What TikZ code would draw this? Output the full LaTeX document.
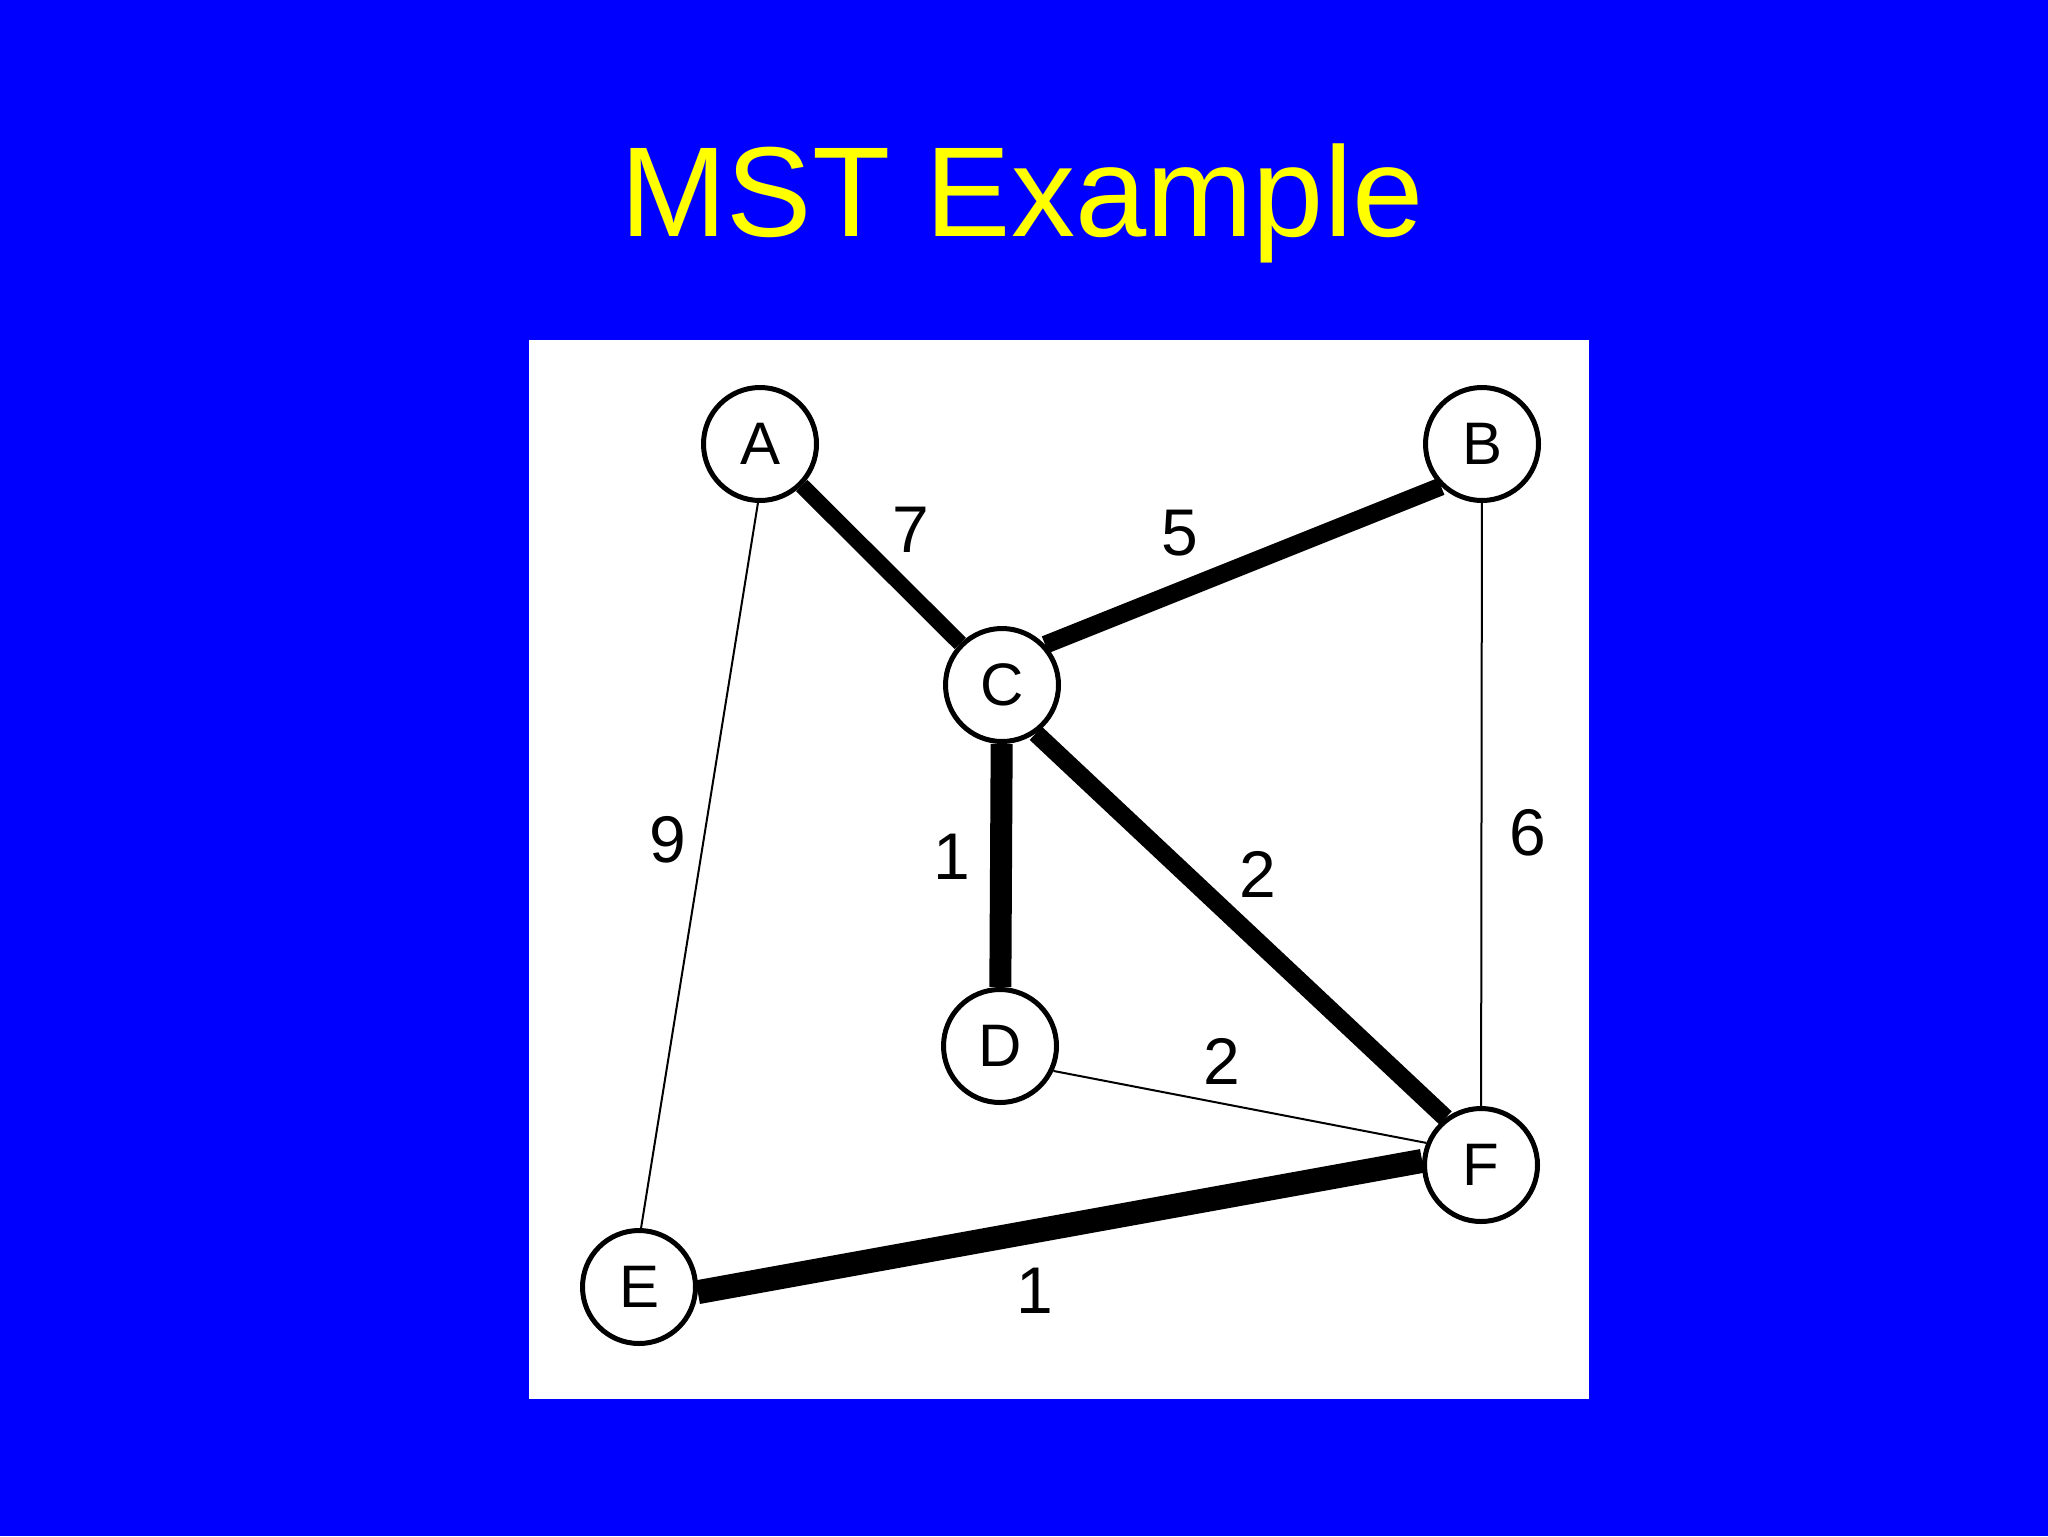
\documentclass[tikz,border=0pt]{standalone}
\usepackage{fontspec}
\setmainfont{Liberation Sans}
\definecolor{SlideBlue}{rgb}{0,0,1}
\definecolor{TitleYellow}{rgb}{1,1,0}

\begin{document}
\begin{tikzpicture}[x=0.5pt,y=-0.5pt,
  vertex/.style={circle,draw=black,fill=white,line width=2.5pt,
    minimum size=56.5pt,inner sep=0pt,font=\fontsize{30}{30}\selectfont},
  tree/.style={line width=9pt},
  other/.style={line width=1pt},
  weight/.style={font=\fontsize{33}{33}\selectfont}]

% slide and panel
\fill[SlideBlue] (0,0) rectangle (2048,1536);
\useasboundingbox (0,0) rectangle (2048,1536);
\fill[white] (529,340) rectangle (1589,1399);

\node[anchor=base,text=TitleYellow,font=\fontsize{64}{64}\selectfont] (title) at (1022,236) {MST Example};

% vertices
\node[vertex] (A) at (760,444) {A};
\node[vertex] (B) at (1482,444) {B};
\node[vertex] (C) at (1002,685) {C};
\node[vertex] (D) at (1000,1046) {D};
\node[vertex] (E) at (639,1287) {E};
\node[vertex] (F) at (1481,1165) {F};

% edges
\draw[other] (A.-92) -- (E.88);
\draw[other] (B) -- (F);
\draw[other] (D.-25) -- (F.158);
\draw[tree,line width=8pt] (A) -- (C);
\draw[tree] (C.43) -- (B.226);
\draw[tree,line width=11pt] (C) -- (D);
\draw[tree] (C.-55) -- (F.127);
\draw[tree,line width=12pt] (E.-5) -- (F.176);

% weights
\node[weight] (wAC) at (911,530) {7};
\node[weight] (wBC) at (1180,533) {5};
\node[weight] (wAE) at (668,840) {9};
\node[weight] (wCD) at (952,857) {1};
\node[weight] (wCF) at (1258,874) {2};
\node[weight] (wBF) at (1528,833) {6};
\node[weight] (wDF) at (1222,1061) {2};
\node[weight] (wEF) at (1035,1291) {1};

\end{tikzpicture}
\end{document}
